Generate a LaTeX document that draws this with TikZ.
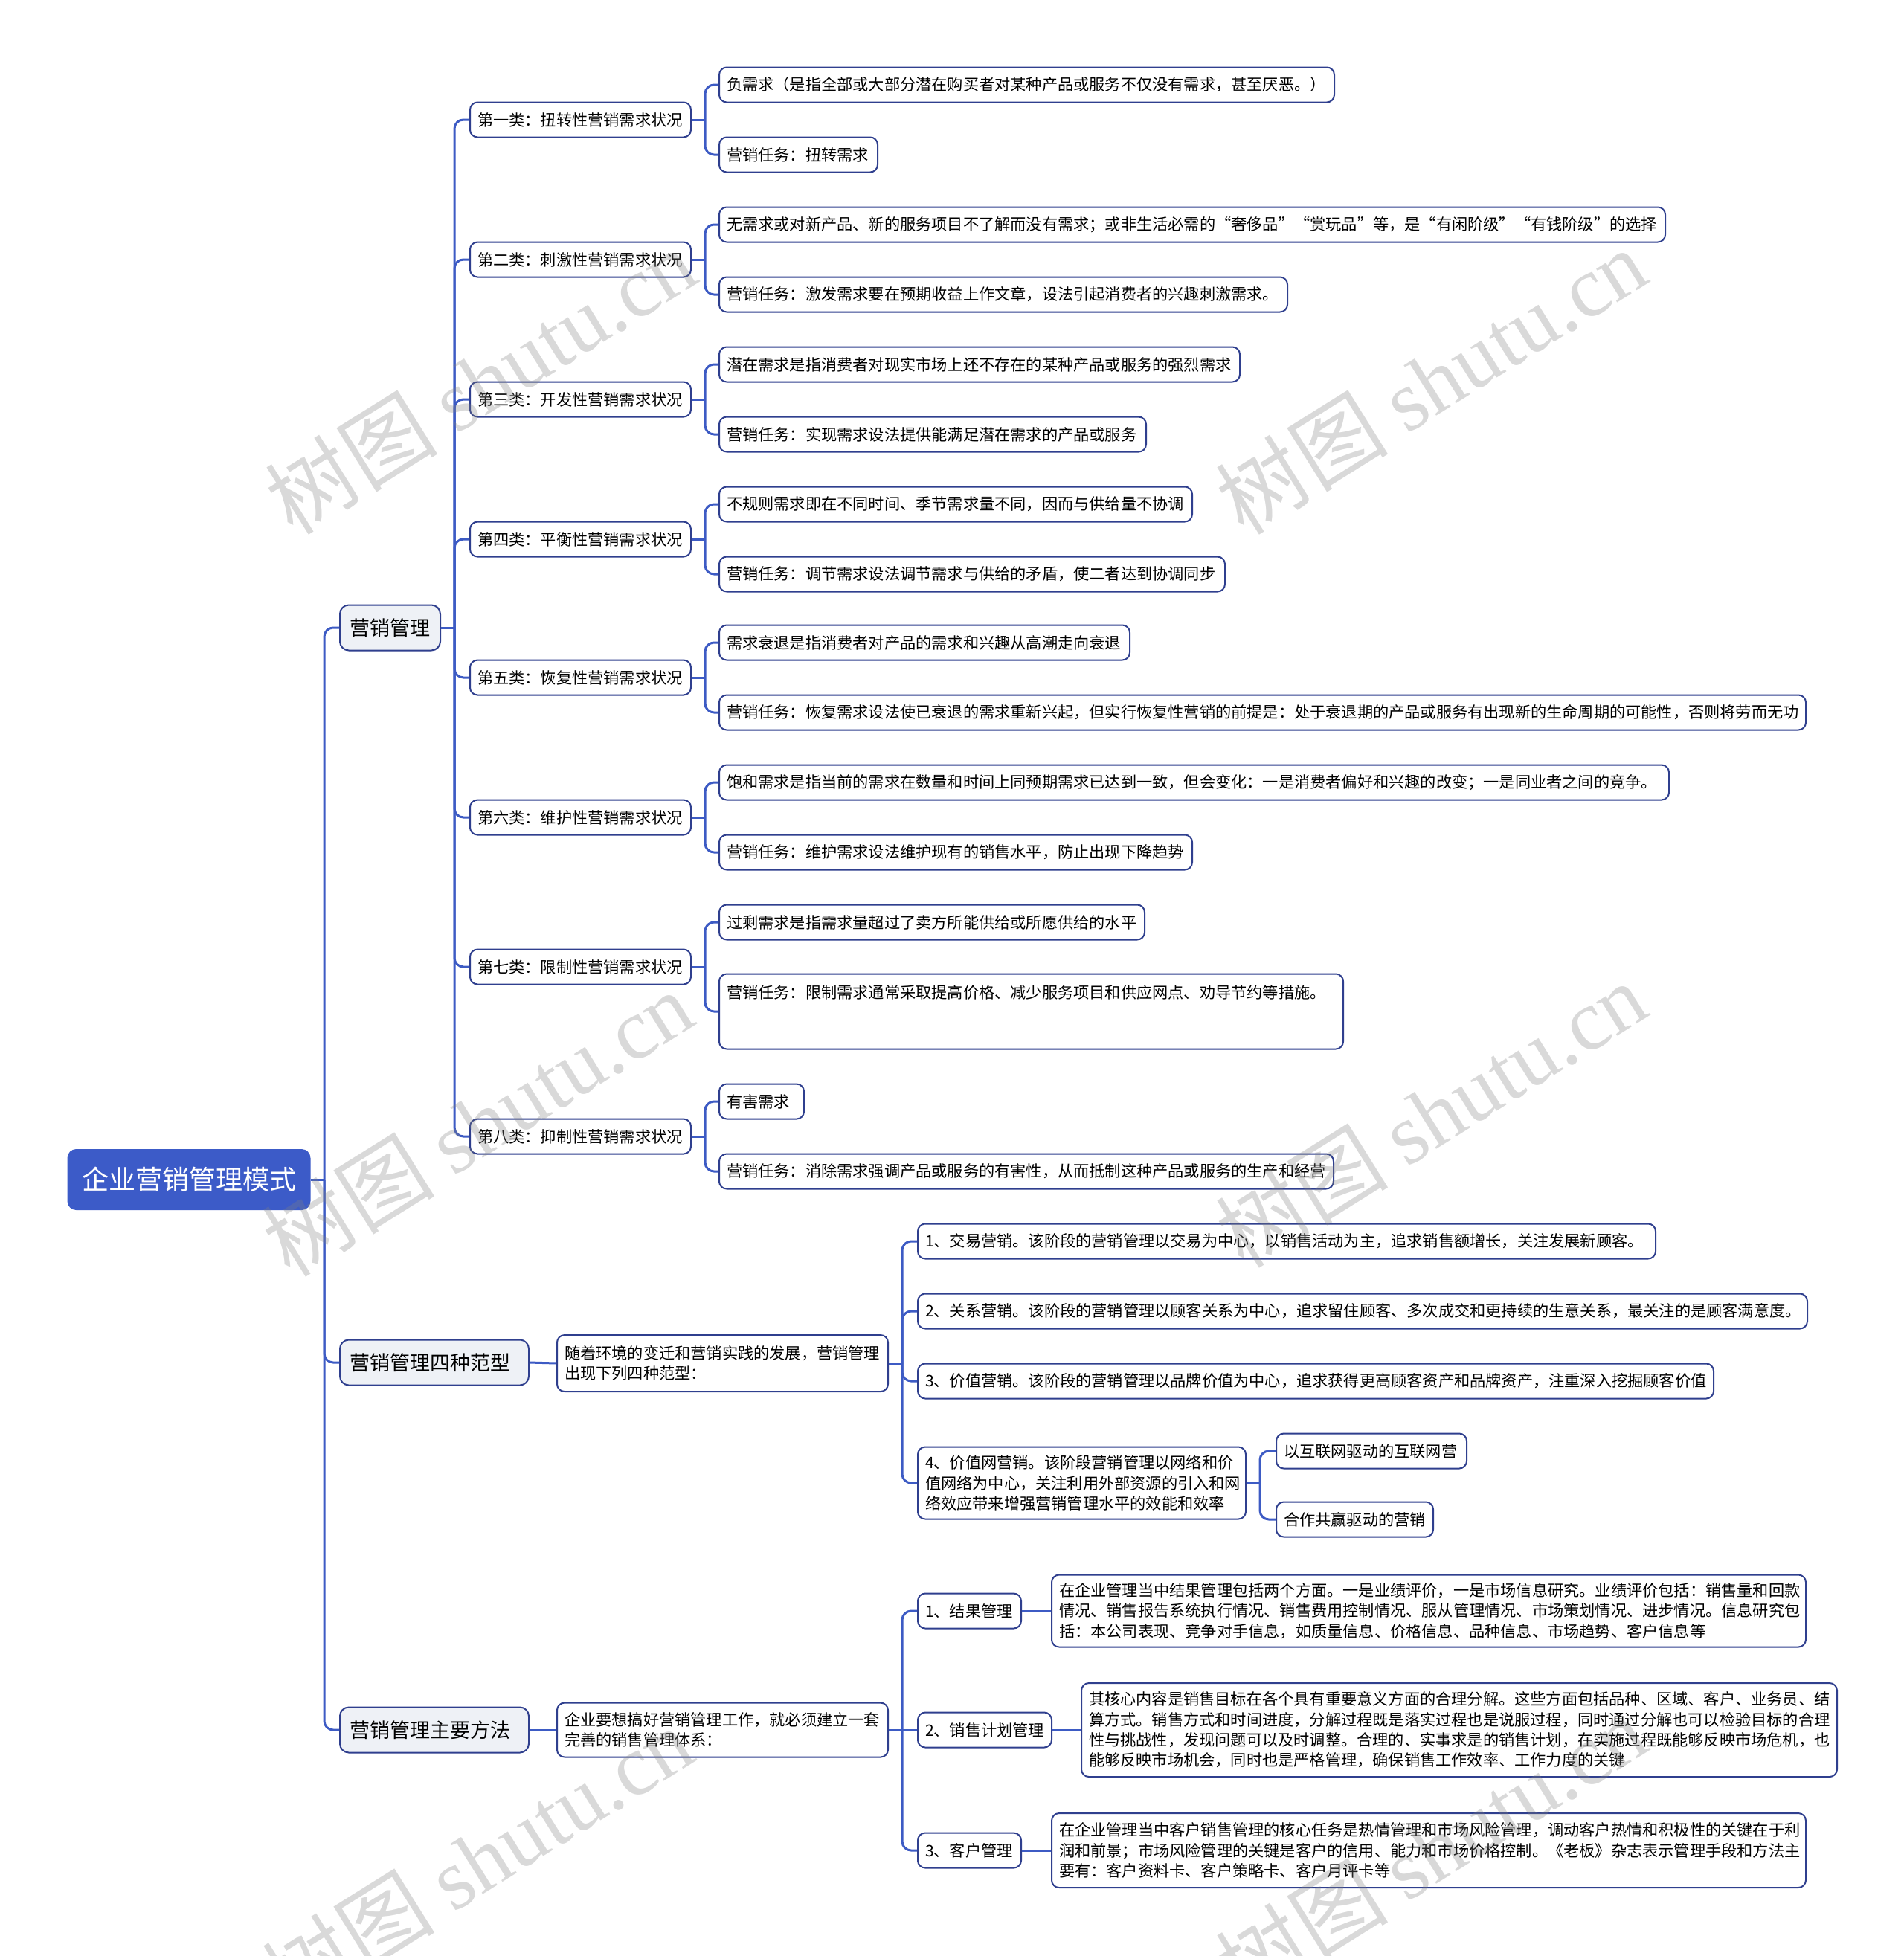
\documentclass[tikz,border=0pt]{standalone}
\usepackage{fontspec}
\setmainfont{Noto Sans CJK SC}
\newfontfamily\wmlat{Liberation Serif}
\definecolor{rootc}{HTML}{3C5BC8}
\definecolor{lc}{HTML}{3D5BC4}
\definecolor{bd}{HTML}{2F3F8E}
\definecolor{lonef}{HTML}{EEF1F6}
\newcommand\fsmall{\fontsize{10.6pt}{13.7pt}\selectfont}
\newcommand\fmid{\fontsize{13.5pt}{16pt}\selectfont}
\newcommand\fbig{\fontsize{18pt}{21pt}\selectfont}
\tikzset{
  conn/.style={draw=lc, line width=1.5pt, rounded corners=6pt},
  leaf/.style={draw=bd, line width=1pt, fill=white, rounded corners=5pt, anchor=west,
    align=left, inner xsep=5pt, inner ysep=2pt, font=\fsmall, minimum height=23.5pt},
  lone/.style={draw=bd, line width=1pt, fill=lonef, rounded corners=6pt, anchor=west,
    align=left, inner xsep=6.5pt, inner ysep=2pt, font=\fmid, minimum height=30.5pt},
  rootn/.style={fill=rootc, rounded corners=6pt, text=white, font=\fbig,
    minimum width=163.5pt, minimum height=41pt, inner sep=0pt},
  wm/.style={text=gray, opacity=0.3, font=\fontsize{58pt}{58pt}\selectfont, rotate=32, inner sep=0pt}
}
\begin{document}
\begin{tikzpicture}[x=1pt,y=-1pt]
\useasboundingbox (0,0) rectangle (1280,1315);
% trunks
\coordinate (t0) at (218,0);
\coordinate (t1) at (305.5,0);
\coordinate (t2) at (474,0);
\coordinate (t3) at (606.5,0);
\coordinate (t4) at (847,0);

% root and level 1
\node[rootn] (root) at (127,793) {企业营销管理模式};
\node[lone, text width=54.5pt] (A) at (228,422) {营销管理};
\node[lone, text width=114pt] (B) at (228,916) {营销管理四种范型};
\node[lone, text width=114pt] (C) at (228,1163) {营销管理主要方法};

% level 2 under A
\node[leaf, text width=138.5pt] (k1) at (315.5,80.5) {第一类：扭转性营销需求状况};
\node[leaf, text width=138.5pt] (k2) at (315.5,174.5) {第二类：刺激性营销需求状况};
\node[leaf, text width=138.5pt] (k3) at (315.5,268.5) {第三类：开发性营销需求状况};
\node[leaf, text width=138.5pt] (k4) at (315.5,362.5) {第四类：平衡性营销需求状况};
\node[leaf, text width=138.5pt] (k5) at (315.5,455.5) {第五类：恢复性营销需求状况};
\node[leaf, text width=138.5pt] (k6) at (315.5,549.5) {第六类：维护性营销需求状况};
\node[leaf, text width=138.5pt] (k7) at (315.5,650) {第七类：限制性营销需求状况};
\node[leaf, text width=138.5pt] (k8) at (315.5,764) {第八类：抑制性营销需求状况};

% level 3
\node[leaf, text width=403.5pt] (a1) at (483,57) {负需求（是指全部或大部分潜在购买者对某种产品或服务不仅没有需求，甚至厌恶。）};
\node[leaf, text width=96.5pt] (a2) at (483,104) {营销任务：扭转需求};
\node[leaf, text width=626pt] (b1) at (483,151) {无需求或对新产品、新的服务项目不了解而没有需求；或非生活必需的“奢侈品”“赏玩品”等，是“有闲阶级”“有钱阶级”的选择};
\node[leaf, text width=372pt] (b2) at (483,198) {营销任务：激发需求要在预期收益上作文章，设法引起消费者的兴趣刺激需求。};
\node[leaf, text width=340pt] (c1) at (483,245) {潜在需求是指消费者对现实市场上还不存在的某种产品或服务的强烈需求};
\node[leaf, text width=277pt] (c2) at (483,292) {营销任务：实现需求设法提供能满足潜在需求的产品或服务};
\node[leaf, text width=308pt] (d1) at (483,339) {不规则需求即在不同时间、季节需求量不同，因而与供给量不协调};
\node[leaf, text width=330pt] (d2) at (483,386) {营销任务：调节需求设法调节需求与供给的矛盾，使二者达到协调同步};
\node[leaf, text width=266pt] (e1) at (483,432) {需求衰退是指消费者对产品的需求和兴趣从高潮走向衰退};
\node[leaf, text width=720.5pt] (e2) at (483,479) {营销任务：恢复需求设法使已衰退的需求重新兴起，但实行恢复性营销的前提是：处于衰退期的产品或服务有出现新的生命周期的可能性，否则将劳而无功};
\node[leaf, text width=628.5pt] (f1) at (483,526) {饱和需求是指当前的需求在数量和时间上同预期需求已达到一致，但会变化：一是消费者偏好和兴趣的改变；一是同业者之间的竞争。};
\node[leaf, text width=308pt] (f2) at (483,573) {营销任务：维护需求设法维护现有的销售水平，防止出现下降趋势};
\node[leaf, text width=276pt] (g1) at (483,620) {过剩需求是指需求量超过了卖方所能供给或所愿供给的水平};
\node[leaf, minimum height=50.5pt] (g2) at (483,680) {\parbox[c][46.5pt][t]{409.5pt}{\fsmall\rule{0pt}{14.5pt}营销任务：限制需求通常采取提高价格、减少服务项目和供应网点、劝导节约等措施。}};
\node[leaf, text width=47pt] (h1) at (483,740.5) {有害需求};
\node[leaf, text width=403pt] (h2) at (483,787.5) {营销任务：消除需求强调产品或服务的有害性，从而抵制这种产品或服务的生产和经营};

% branch B
\node[leaf, text width=212.5pt, minimum height=38pt] (B0) at (374,916.5) {随着环境的变迁和营销实践的发展，营销管理\\出现下列四种范型：};
\node[leaf, text width=486pt] (p1) at (616.5,834.5) {1、交易营销。该阶段的营销管理以交易为中心，以销售活动为主，追求销售额增长，关注发展新顾客。};
\node[leaf, text width=588pt] (p2) at (616.5,881.5) {2、关系营销。该阶段的营销管理以顾客关系为中心，追求留住顾客、多次成交和更持续的生意关系，最关注的是顾客满意度。};
\node[leaf, text width=525pt] (p3) at (616.5,928.5) {3、价值营销。该阶段的营销管理以品牌价值为中心，追求获得更高顾客资产和品牌资产，注重深入挖掘顾客价值};
\node[leaf, text width=210.5pt, minimum height=48.5pt] (p4) at (616.5,997) {4、价值网营销。该阶段营销管理以网络和价\\值网络为中心，关注利用外部资源的引入和网\\络效应带来增强营销管理水平的效能和效率};
\node[leaf, text width=118pt] (q1) at (857.5,975.5) {以互联网驱动的互联网营};
\node[leaf, text width=95.5pt] (q2) at (857.5,1021.5) {合作共赢驱动的营销};

% branch C
\node[leaf, text width=212.5pt, minimum height=36.5pt] (C0) at (374,1163) {企业要想搞好营销管理工作，就必须建立一套\\完善的销售管理体系：};
\node[leaf, text width=59.5pt] (r1) at (616.5,1083) {1、结果管理};
\node[leaf, text width=80pt] (r2) at (616.5,1163) {2、销售计划管理};
\node[leaf, text width=59.5pt] (r3) at (616.5,1244) {3、客户管理};
\node[leaf, text width=497pt, minimum height=48.5pt] (r1b) at (706.5,1083) {在企业管理当中结果管理包括两个方面。一是业绩评价，一是市场信息研究。业绩评价包括：销售量和回款\\情况、销售报告系统执行情况、销售费用控制情况、服从管理情况、市场策划情况、进步情况。信息研究包\\括：本公司表现、竞争对手信息，如质量信息、价格信息、品种信息、市场趋势、客户信息等};
\node[leaf, text width=498pt, minimum height=63pt] (r2b) at (726.5,1163) {其核心内容是销售目标在各个具有重要意义方面的合理分解。这些方面包括品种、区域、客户、业务员、结\\算方式。销售方式和时间进度，分解过程既是落实过程也是说服过程，同时通过分解也可以检验目标的合理\\性与挑战性，发现问题可以及时调整。合理的、实事求是的销售计划，在实施过程既能够反映市场危机，也\\能够反映市场机会，同时也是严格管理，确保销售工作效率、工作力度的关键};
\node[leaf, text width=497pt, minimum height=50pt] (r3b) at (706.5,1244) {在企业管理当中客户销售管理的核心任务是热情管理和市场风险管理，调动客户热情和积极性的关键在于利\\润和前景；市场风险管理的关键是客户的信用、能力和市场价格控制。《老板》杂志表示管理手段和方法主\\要有：客户资料卡、客户策略卡、客户月评卡等};

% connectors
\draw[conn] (root.east) -- (root.east -| t0);
\foreach \c in {A,B,C} \draw[conn] (root.east -| t0) |- (\c.west);
\draw[conn] (A.east) -- (A.east -| t1);
\foreach \c in {k1,k2,k3,k4,k5,k6,k7,k8} \draw[conn] (A.east -| t1) |- (\c.west);
\foreach \p/\u/\v in {k1/a1/a2,k2/b1/b2,k3/c1/c2,k4/d1/d2,k5/e1/e2,k6/f1/f2,k7/g1/g2,k8/h1/h2}{
  \draw[conn] (\p.east) -- (\p.east -| t2);
  \draw[conn] (\p.east -| t2) |- (\u.west);
  \draw[conn] (\p.east -| t2) |- (\v.west);
}
\draw[conn] (B.east) -- (B0.west);
\draw[conn] (B0.east) -- (B0.east -| t3);
\foreach \c in {p1,p2,p3,p4} \draw[conn] (B0.east -| t3) |- (\c.west);
\draw[conn] (p4.east) -- (p4.east -| t4);
\foreach \c in {q1,q2} \draw[conn] (p4.east -| t4) |- (\c.west);
\draw[conn] (C.east) -- (C0.west);
\draw[conn] (C0.east) -- (C0.east -| t3);
\foreach \c in {r1,r3} \draw[conn] (C0.east -| t3) |- (\c.west);
\draw[conn] (C0.east) -- (r2.west);
\draw[conn] (r1.east) -- (r1b.west);
\draw[conn] (r2.east) -- (r2b.west);
\draw[conn] (r3.east) -- (r3b.west);

% watermarks
\node[wm] (w1) at (323,256) {树图 {\wmlat shutu.cn}};
\node[wm] (w2) at (962,256) {树图 {\wmlat shutu.cn}};
\node[wm] (w3) at (321,755) {树图 {\wmlat shutu.cn}};
\node[wm] (w4) at (962,749) {树图 {\wmlat shutu.cn}};
\node[wm] (w5) at (321,1250) {树图 {\wmlat shutu.cn}};
\node[wm] (w6) at (962,1243) {树图 {\wmlat shutu.cn}};
\end{tikzpicture}
\end{document}
